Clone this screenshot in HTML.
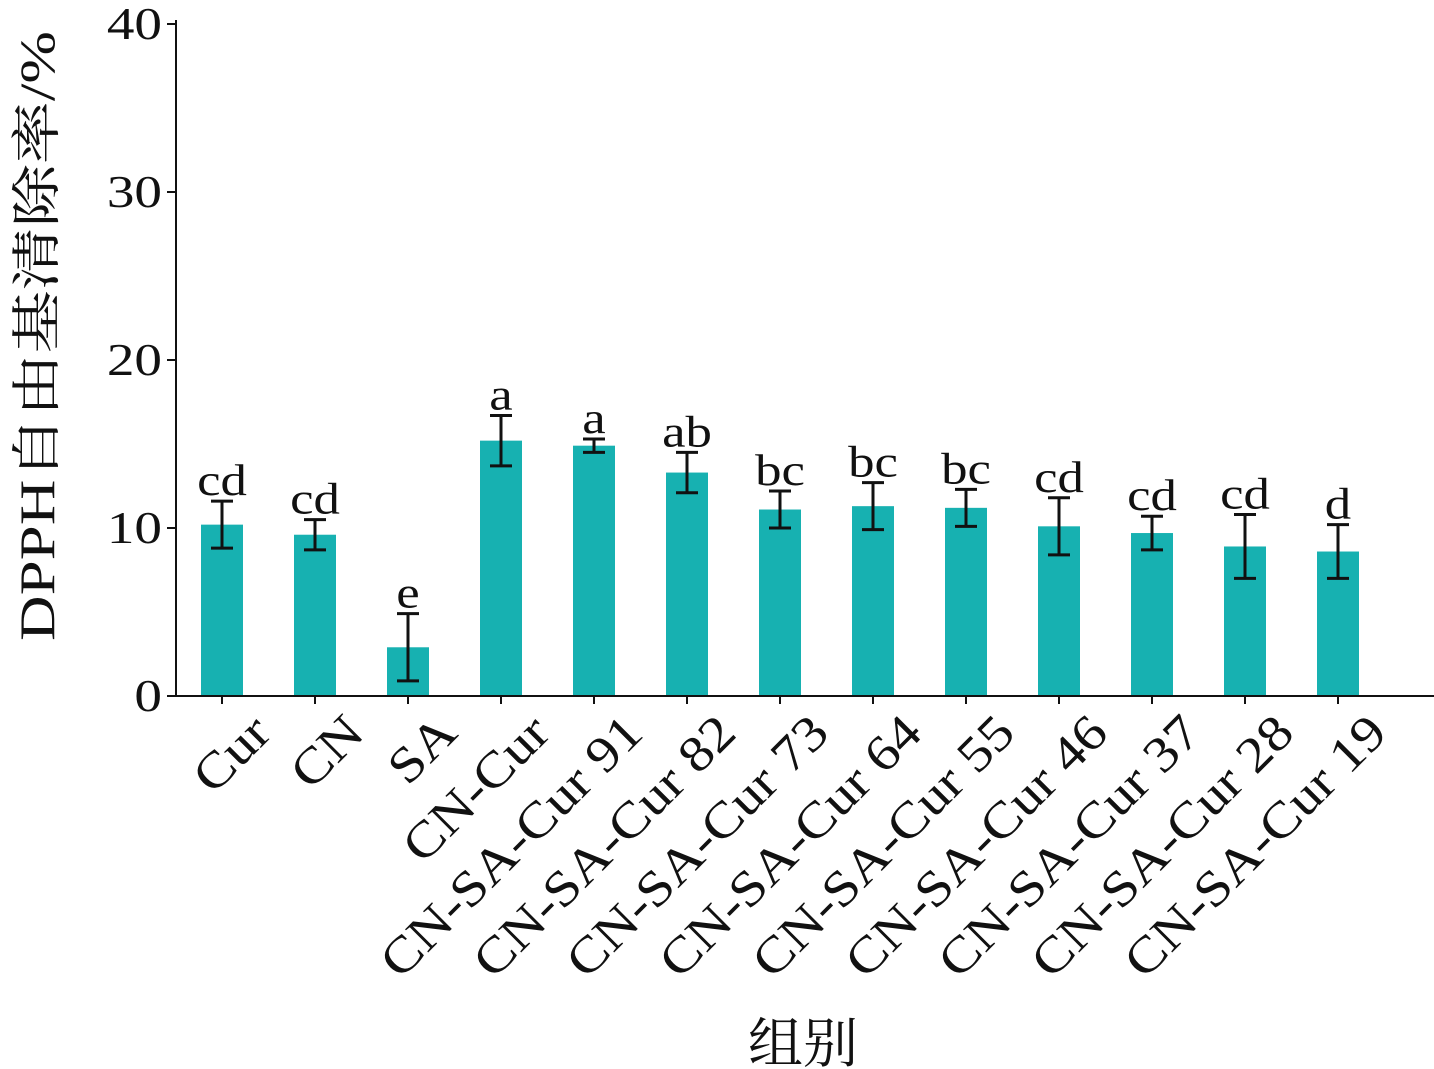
<!DOCTYPE html>
<html><head><meta charset="utf-8"><style>
html,body{margin:0;padding:0;background:#fff;}
svg{display:block;font-family:"Liberation Serif","Noto Serif CJK SC",serif;}
</style></head><body>
<svg id="chart" width="1434" height="1069" viewBox="0 0 1434 1069" xmlns="http://www.w3.org/2000/svg"></svg>
<script>
const categories=["Cur","CN","SA","CN-Cur","CN-SA-Cur 91","CN-SA-Cur 82","CN-SA-Cur 73","CN-SA-Cur 64","CN-SA-Cur 55","CN-SA-Cur 46","CN-SA-Cur 37","CN-SA-Cur 28","CN-SA-Cur 19"];
const values=[10.2,9.6,2.9,15.2,14.9,13.3,11.1,11.3,11.2,10.1,9.7,8.9,8.6];
const errors=[1.4,0.9,2.0,1.5,0.4,1.2,1.1,1.4,1.1,1.7,1.0,1.9,1.6];
const letters=["cd","cd","e","a","a","ab","bc","bc","bc","cd","cd","cd","d"];
const yTicks=[0,10,20,30,40];

const svg=document.getElementById('chart');
const NS='http://www.w3.org/2000/svg';
const x0=176,y0=696,yTop=24,yMax=40,step=93,firstC=222,bw=42;
const yS=v=>y0-(v/yMax)*(y0-yTop);
const xS=i=>firstC+i*step;
function mk(t,a,txt){const e=document.createElementNS(NS,t);for(const k in a)e.setAttribute(k,a[k]);if(txt!=null)e.textContent=txt;svg.appendChild(e);return e;}

categories.forEach((c,i)=>{
  const cx=xS(i),v=values[i],er=errors[i];
  const b=mk('rect',{x:cx-bw/2,y:yS(v),width:bw,height:y0-yS(v),fill:'#17b1b1'});
  
  
  const g=mk('g',{stroke:'#111','stroke-width':3});
  
  
  const t=yS(v+er),bo=yS(v-er);
  [[cx,t,cx,bo],[cx-11,t,cx+11,t],[cx-11,bo,cx+11,bo]].forEach(l=>{const e=document.createElementNS(NS,'line');e.setAttribute('x1',l[0]);e.setAttribute('y1',l[1]);e.setAttribute('x2',l[2]);e.setAttribute('y2',l[3]);g.appendChild(e);});
  const lt=mk('text',{x:0,y:0,'text-anchor':'middle','font-size':44,fill:'#111',transform:`translate(${cx} ${t-6}) scale(1.2 1)`},letters[i]);
  
  
  const tk=mk('line',{x1:cx,y1:y0,x2:cx,y2:y0+8,stroke:'#111','stroke-width':2});
  
  
  const xl=mk('text',{x:0,y:0,'text-anchor':'end','font-size':50,fill:'#111','dominant-baseline':'hanging',transform:`translate(${cx+26} ${y0+14}) rotate(-45) scale(1.14 1)`},c);
  
  
});

yTicks.forEach(v=>{
  const y=yS(v);
  const tk=mk('line',{x1:x0-9,y1:y,x2:x0,y2:y,stroke:'#111','stroke-width':2});
  
  
  const tl=mk('text',{x:0,y:0,'text-anchor':'end','font-size':46,fill:'#111',transform:`translate(${x0-14} ${y+15}) scale(1.2 1)`},String(v));
  
  
});

const ya=mk('line',{x1:x0,y1:yTop-4,x2:x0,y2:y0,stroke:'#111','stroke-width':2});


const xa=mk('line',{x1:x0,y1:y0,x2:1434,y2:y0,stroke:'#111','stroke-width':2});


const xt=mk('text',{x:803,y:1062,'text-anchor':'middle','font-size':54,fill:'#111',textLength:110,lengthAdjust:'spacingAndGlyphs'},'组别');


const yt=mk('text',{x:0,y:0,'text-anchor':'middle','font-size':50,fill:'#111',textLength:610,lengthAdjust:'spacingAndGlyphs',transform:'translate(54 336) rotate(-90)'},'DPPH自由基清除率/%');


</script>
</body></html>
